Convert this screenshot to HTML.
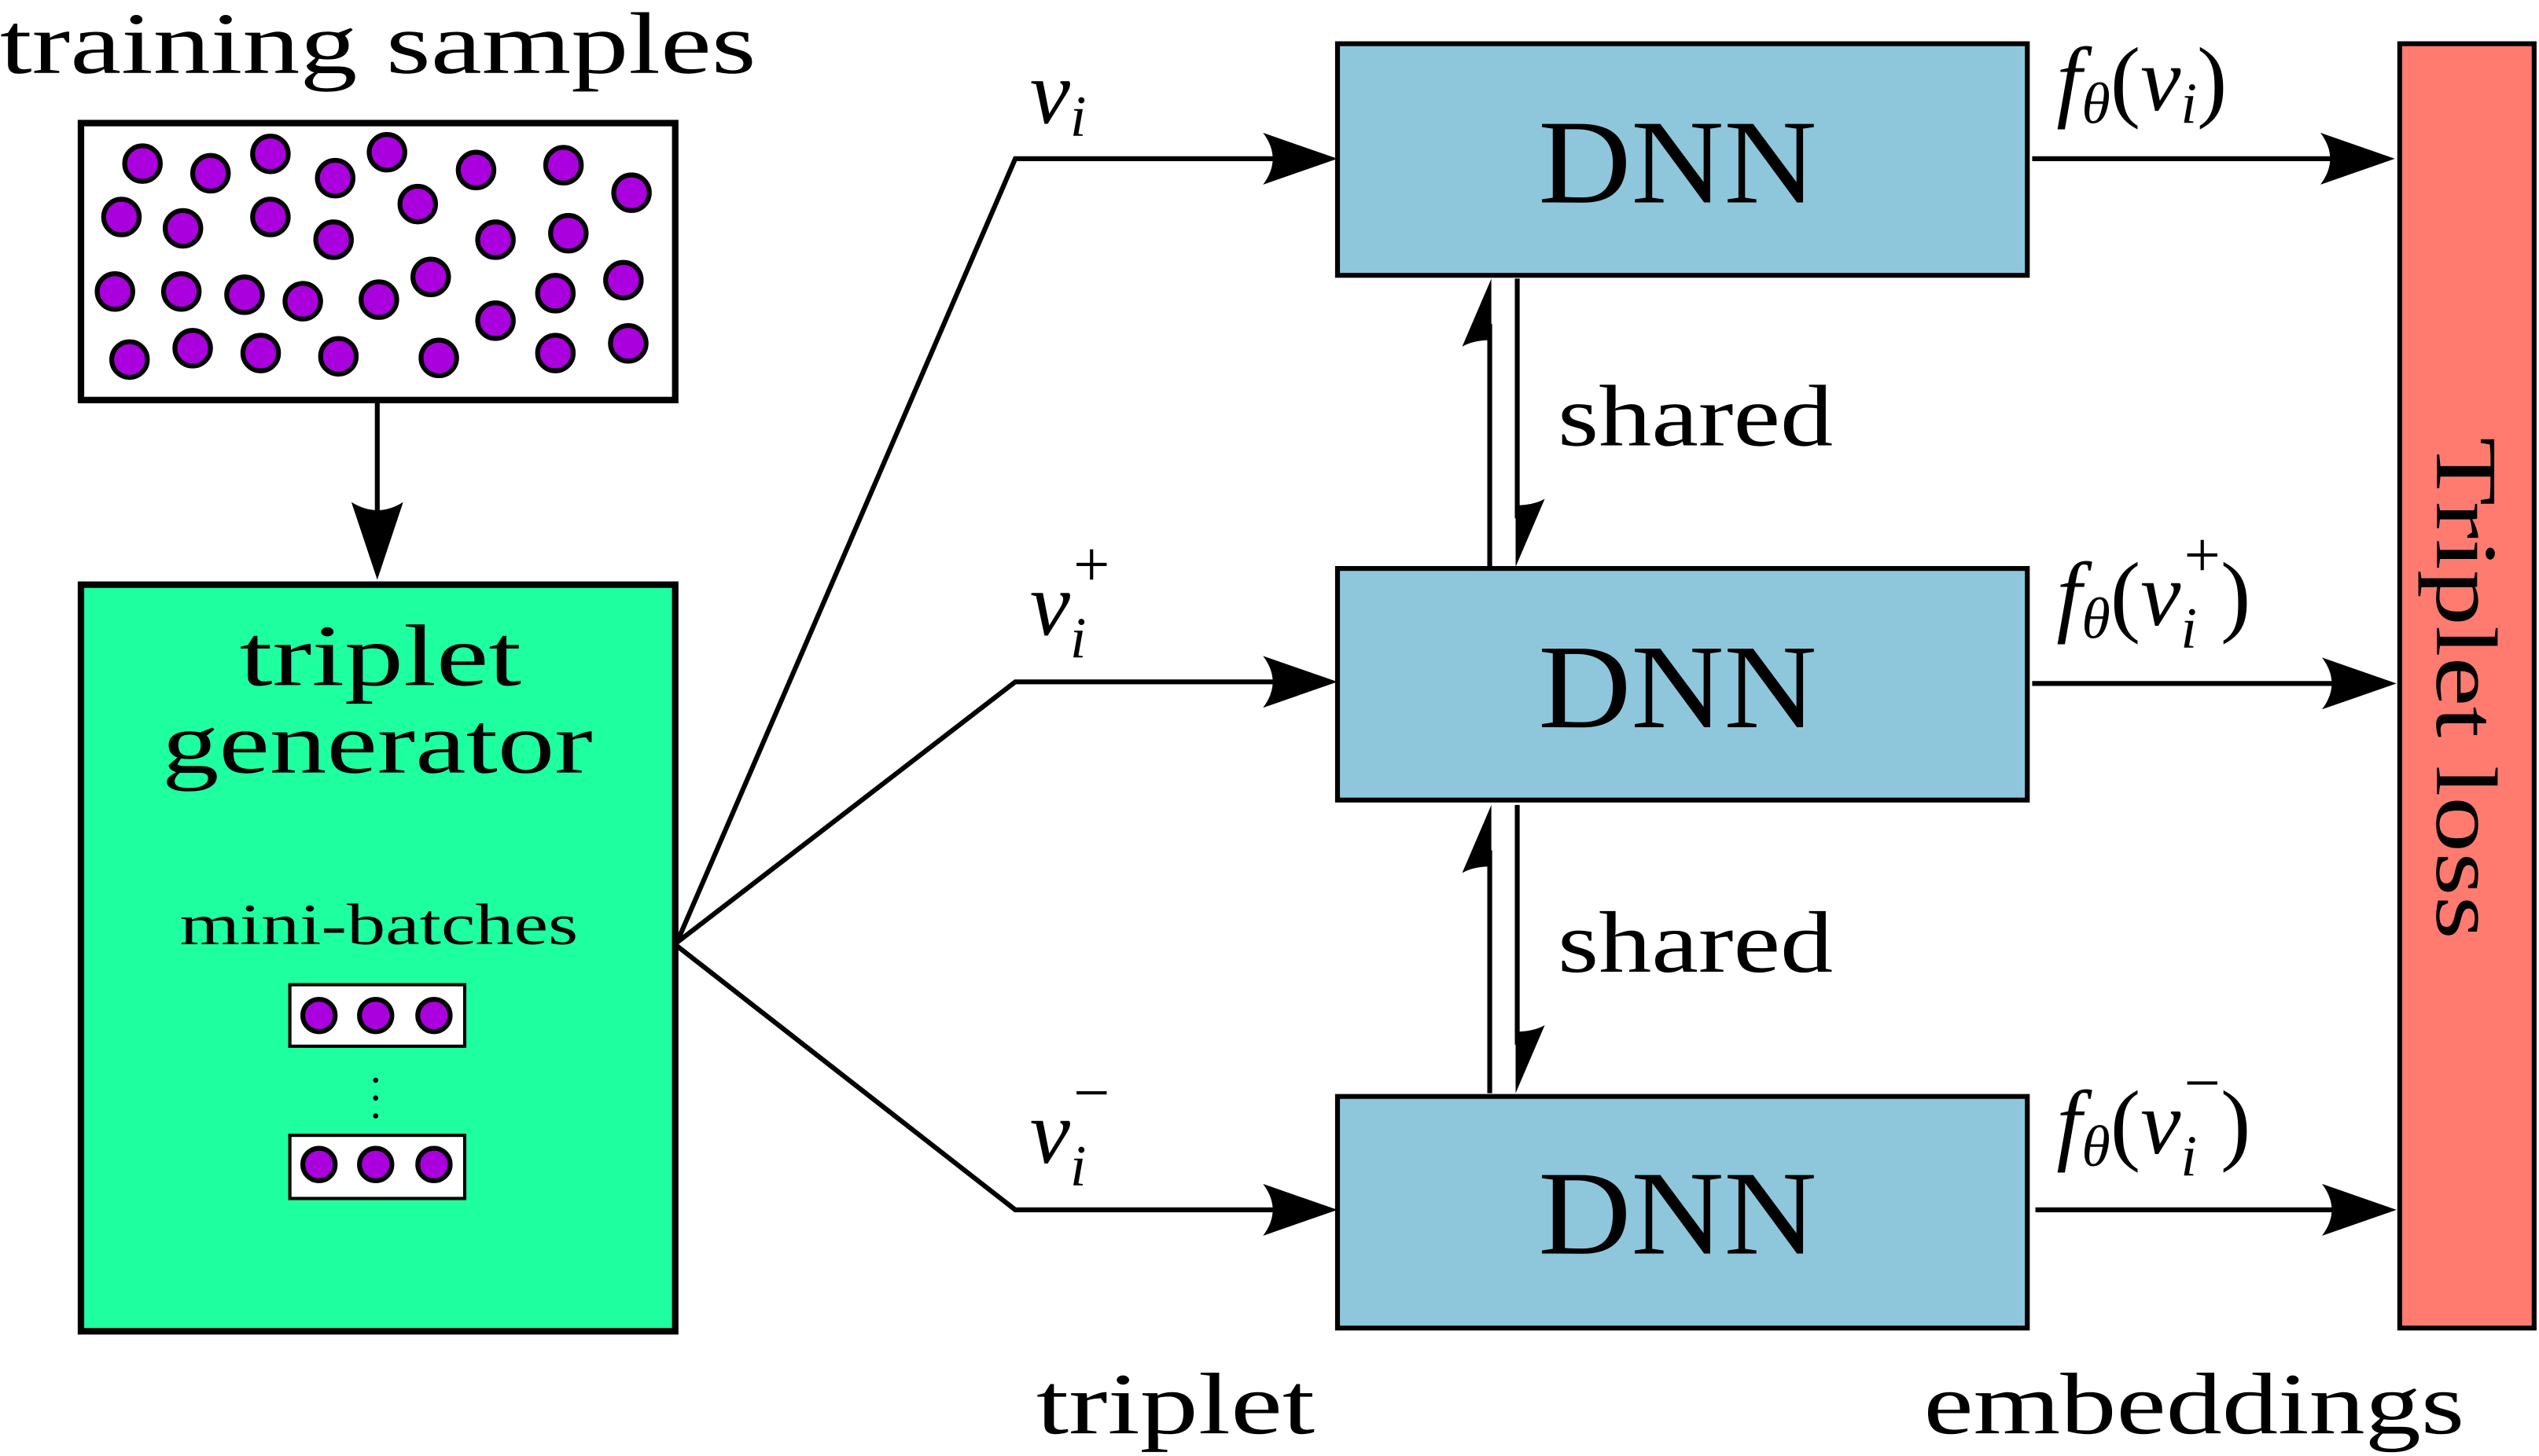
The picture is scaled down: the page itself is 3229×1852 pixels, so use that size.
<!DOCTYPE html>
<html><head><meta charset="utf-8"><style>
html,body{margin:0;padding:0;background:#fff;}
svg{display:block;}
text{font-family:"Liberation Serif",serif;fill:#000;}
</style></head><body>
<svg width="3229" height="1852" viewBox="0 0 1568 899" preserveAspectRatio="none" xmlns="http://www.w3.org/2000/svg">
<text x="0" y="45" font-size="54" textLength="467" lengthAdjust="spacingAndGlyphs">training samples</text>
<rect x="50" y="76" width="367" height="171" fill="#fff" stroke="#000" stroke-width="4"/>
<g fill="#aa00dd" stroke="#000" stroke-width="3">
<circle cx="88" cy="101" r="11"/><circle cx="130" cy="107" r="11"/><circle cx="167" cy="95" r="11"/><circle cx="207" cy="110" r="11"/><circle cx="239" cy="94" r="11"/><circle cx="294" cy="105" r="11"/><circle cx="348" cy="102" r="11"/><circle cx="390" cy="119" r="11"/>
<circle cx="75" cy="134" r="11"/><circle cx="113" cy="141" r="11"/><circle cx="167" cy="134" r="11"/><circle cx="206" cy="148" r="11"/><circle cx="258" cy="126" r="11"/><circle cx="306" cy="148" r="11"/><circle cx="351" cy="144" r="11"/>
<circle cx="71" cy="180" r="11"/><circle cx="112" cy="180" r="11"/><circle cx="151" cy="182" r="11"/><circle cx="187" cy="186" r="11"/><circle cx="234" cy="185" r="11"/><circle cx="266" cy="171" r="11"/><circle cx="306" cy="198" r="11"/><circle cx="343" cy="181" r="11"/><circle cx="385" cy="173" r="11"/>
<circle cx="80" cy="222" r="11"/><circle cx="119" cy="215" r="11"/><circle cx="161" cy="218" r="11"/><circle cx="209" cy="220" r="11"/><circle cx="271" cy="221" r="11"/><circle cx="343" cy="218" r="11"/><circle cx="388" cy="212" r="11"/>
</g>
<line x1="233" y1="247" x2="233" y2="330" stroke="#000" stroke-width="3"/>
<path d="M233,358 L217,310 Q233,320 249,310 Z"/>
<rect x="50" y="361" width="367" height="461" fill="#1effa0" stroke="#000" stroke-width="4"/>
<text x="148" y="423" font-size="54" textLength="174" lengthAdjust="spacingAndGlyphs">triplet</text>
<text x="100" y="477" font-size="54" textLength="266" lengthAdjust="spacingAndGlyphs">generator</text>
<text x="111" y="583" font-size="36" textLength="246" lengthAdjust="spacingAndGlyphs">mini-batches</text>
<rect x="179" y="608" width="108" height="38" fill="#fff" stroke="#000" stroke-width="2"/>
<rect x="179" y="701" width="108" height="39" fill="#fff" stroke="#000" stroke-width="2"/>
<g fill="#aa00dd" stroke="#000" stroke-width="3">
<circle cx="197" cy="627" r="10"/><circle cx="232" cy="627" r="10"/><circle cx="268" cy="627" r="10"/>
<circle cx="197" cy="719" r="10"/><circle cx="232" cy="719" r="10"/><circle cx="268" cy="719" r="10"/>
</g>
<g fill="#000"><circle cx="232" cy="667" r="1.6"/><circle cx="232" cy="678" r="1.6"/><circle cx="232" cy="689" r="1.6"/></g>
<g fill="none" stroke="#000" stroke-width="3">
<polyline points="418,582 627,98 800,98"/>
<polyline points="418,582 627,421 800,421"/>
<polyline points="418,584 627,747 800,747"/>
<line x1="1255" y1="98" x2="1450" y2="98"/>
<line x1="1255" y1="422" x2="1450" y2="422"/>
<line x1="1257" y1="747" x2="1450" y2="747"/>
<line x1="920" y1="200" x2="920" y2="350"/>
<line x1="937" y1="172" x2="937" y2="320"/>
<line x1="920" y1="525" x2="920" y2="675"/>
<line x1="937" y1="497" x2="937" y2="645"/>
</g>
<g fill="#000">
<path d="M826,98 L780,82 Q792,98 780,114 Z"/>
<path d="M826,421 L780,405 Q792,421 780,437 Z"/>
<path d="M826,747 L780,731 Q792,747 780,763 Z"/>
<path d="M1479,98 L1433,82 Q1445,98 1433,114 Z"/>
<path d="M1480,422 L1434,406 Q1446,422 1434,438 Z"/>
<path d="M1480,747 L1434,731 Q1446,747 1434,763 Z"/>
<path d="M921,172 L903,214 Q910,210 921,210 Z"/>
<path d="M936,350 L954,308 Q947,312 936,312 Z"/>
<path d="M921,497 L903,539 Q910,535 921,535 Z"/>
<path d="M936,675 L954,633 Q947,637 936,637 Z"/>
</g>
<g fill="#8ec7db" stroke="#000" stroke-width="3">
<rect x="826" y="27" width="426" height="143"/>
<rect x="826" y="351" width="426" height="143"/>
<rect x="826" y="677" width="426" height="143"/>
</g>
<text x="950" y="125" font-size="74" textLength="172" lengthAdjust="spacingAndGlyphs">DNN</text>
<text x="950" y="449" font-size="74" textLength="172" lengthAdjust="spacingAndGlyphs">DNN</text>
<text x="950" y="774" font-size="74" textLength="172" lengthAdjust="spacingAndGlyphs">DNN</text>
<text x="962" y="275" font-size="54" textLength="170" lengthAdjust="spacingAndGlyphs">shared</text>
<text x="962" y="600" font-size="54" textLength="170" lengthAdjust="spacingAndGlyphs">shared</text>
<rect x="1482" y="27" width="83" height="793" fill="#ff7b70" stroke="#000" stroke-width="3"/>
<text transform="translate(1505,270) rotate(90)" font-size="54" textLength="310" lengthAdjust="spacingAndGlyphs">Triplet loss</text>
<g font-style="italic" font-size="56">
<text x="636" y="76">v<tspan font-size="36" dy="8">i</tspan></text>
<text x="636" y="392">v<tspan font-size="36" dy="14">i</tspan><tspan font-size="40" font-style="normal" dx="-8" dy="-44">+</tspan></text>
<text x="636" y="718">v<tspan font-size="36" dy="14">i</tspan><tspan font-size="40" font-style="normal" dx="-8" dy="-44">−</tspan></text>
<text x="1270" y="68">f<tspan font-size="36" dy="8">θ</tspan><tspan font-style="normal" dy="-8">(</tspan>v<tspan font-size="36" dy="8">i</tspan><tspan font-style="normal" dy="-8">)</tspan></text>
<text x="1270" y="386">f<tspan font-size="36" dy="8">θ</tspan><tspan font-style="normal" dy="-8">(</tspan>v<tspan font-size="36" dy="14">i</tspan><tspan font-size="40" font-style="normal" dx="-8" dy="-44">+</tspan><tspan font-style="normal" dy="30">)</tspan></text>
<text x="1270" y="712">f<tspan font-size="36" dy="8">θ</tspan><tspan font-style="normal" dy="-8">(</tspan>v<tspan font-size="36" dy="14">i</tspan><tspan font-size="40" font-style="normal" dx="-8" dy="-44">−</tspan><tspan font-style="normal" dy="30">)</tspan></text>
</g>
<text x="640" y="885" font-size="54" textLength="172" lengthAdjust="spacingAndGlyphs">triplet</text>
<text x="1188" y="885" font-size="54" textLength="334" lengthAdjust="spacingAndGlyphs">embeddings</text>
</svg>
</body></html>
